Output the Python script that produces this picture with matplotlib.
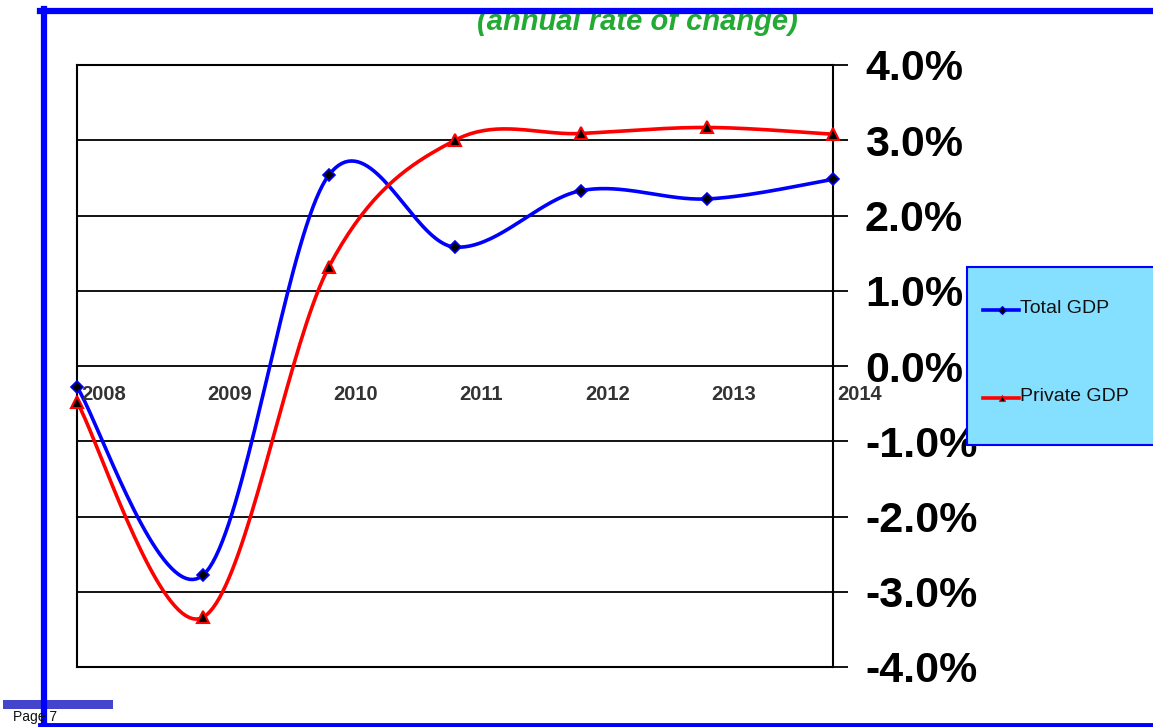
import matplotlib
matplotlib.use("Agg")
import matplotlib.pyplot as plt
import numpy as np
from matplotlib.lines import Line2D
from matplotlib.patches import Rectangle
from matplotlib.ticker import FuncFormatter
import matplotlib.transforms as mtransforms

years = [2008, 2009, 2010, 2011, 2012, 2013, 2014]
total_gdp = [-0.28, -2.78, 2.54, 1.58, 2.33, 2.22, 2.48]
private_gdp = [-0.48, -3.34, 1.32, 3.00, 3.09, 3.17, 3.08]
y_ticks = [-4, -3, -2, -1, 0, 1, 2, 3, 4]


def smooth(xs, ys, n=40):
    # excel-like smoothed line: catmull-rom bezier through the points
    xs = np.asarray(xs, float)
    ys = np.asarray(ys, float)
    px = np.concatenate([[xs[0]], xs, [xs[-1]]])
    py = np.concatenate([[ys[0]], ys, [ys[-1]]])
    outx, outy = [], []
    t = np.linspace(0, 1, n)
    for i in range(1, len(px) - 2):
        p0 = np.array([px[i], py[i]])
        p3 = np.array([px[i + 1], py[i + 1]])
        c1 = p0 + (p3 - np.array([px[i - 1], py[i - 1]])) / 6
        c2 = p3 - (np.array([px[i + 2], py[i + 2]]) - p0) / 6
        b = ((1 - t) ** 3)[:, None] * p0 + (3 * (1 - t) ** 2 * t)[:, None] * c1 \
            + (3 * (1 - t) * t ** 2)[:, None] * c2 + (t ** 3)[:, None] * p3
        outx.extend(b[:, 0])
        outy.extend(b[:, 1])
    return outx, outy


W, H = 1153, 727
fig = plt.figure(figsize=(W / 100, H / 100), dpi=100)
plt.rcParams['font.family'] = ['Liberation Sans', 'DejaVu Sans']

ax = fig.add_axes([77 / W, (H - 667) / H, (833 - 77) / W, (667 - 65) / H])
ax.set_xlim(2008, 2014)
ax.set_ylim(-4, 4)

for y in y_ticks:
    ax.axhline(y, color='black', lw=1.3, zorder=1)

bx, by = smooth(years, total_gdp)
rx, ry = smooth(years, private_gdp)
ax.plot(bx, by, color='#0000ff', lw=2.6, zorder=3, clip_on=False)
ax.plot(rx, ry, color='#ff0000', lw=2.6, zorder=3, clip_on=False)
ax.plot(years, total_gdp, ls='none', marker='D', ms=6, mfc='black', mec='#0000ff',
        mew=1.2, zorder=4, clip_on=False)
ax.plot(years, private_gdp, ls='none', marker='^', ms=8, mfc='black', mec='#ff0000',
        mew=1.5, zorder=4, clip_on=False)

# year labels sit just under the zero line
off = mtransforms.offset_copy(ax.transData, fig=fig, x=3, y=-20.5, units='points')
for yr in years:
    ax.text(yr, 0, str(yr), transform=off, ha='left', va='center', fontsize=14.5,
            fontweight='bold', color='#333333', zorder=5)

ax.set_xticks([])
ax.yaxis.tick_right()
ax.set_yticks(y_ticks)
ax.yaxis.set_major_formatter(FuncFormatter(lambda v, p: f"{v:.1f}%"))
ax.tick_params(axis='y', direction='out', length=11, width=1.3, pad=12,
               labelsize=31, colors='black')
for lbl in ax.get_yticklabels():
    lbl.set_fontweight('bold')
for s in ax.spines.values():
    s.set_linewidth(1.5)
    s.set_color('black')

# legend box
leg = fig.add_axes([967 / W, (H - 445) / H, (1160 - 967) / W, (445 - 267) / H])
leg.set_xlim(0, 1)
leg.set_ylim(0, 1)
leg.axis('off')
leg.add_patch(Rectangle((0, 0), 1, 1, transform=leg.transAxes, facecolor='#85dfff',
                        edgecolor='#0000ff', lw=1.5, clip_on=False))
leg.add_line(Line2D([0.085, 0.27], [0.76, 0.76], color='#0000ff', lw=2.6))
leg.plot([0.18], [0.76], marker='D', ms=4, mfc='black', mec='#0000ff', mew=0.8)
leg.text(0.275, 0.765, 'Total GDP', fontsize=14, va='center', ha='left', color='#111111')
leg.add_line(Line2D([0.085, 0.27], [0.265, 0.265], color='#ff0000', lw=2.6))
leg.plot([0.18], [0.265], marker='^', ms=5, mfc='black', mec='#ff0000', mew=0.8)
leg.text(0.275, 0.27, 'Private GDP', fontsize=14, va='center', ha='left', color='#111111')

# page frame
fig.text(637 / W, 1 - 22 / H, '(annual rate of change)', ha='center', va='center',
         fontsize=21, fontstyle='italic', fontweight='bold', color='#22aa33', zorder=1)
fig.add_artist(Line2D([40 / W, 1], [1 - 11 / H, 1 - 11 / H], color='#0000ff', lw=4.5, zorder=3))
fig.add_artist(Line2D([43.5 / W, 43.5 / W], [1 - 9 / H, 0], color='#0000ff', lw=4.5, zorder=3))
fig.add_artist(Line2D([40 / W, 1], [1 - 724.5 / H, 1 - 724.5 / H], color='#0000ff', lw=3.5))
fig.add_artist(Rectangle((3 / W, 1 - 709 / H), 110 / W, 9 / H, transform=fig.transFigure,
                         facecolor='#4444cc', edgecolor='none'))
fig.text(13 / W, 1 - 717 / H, 'Page 7', fontsize=10, va='center', ha='left', color='#111111')

fig.savefig('out.png', dpi=100)
